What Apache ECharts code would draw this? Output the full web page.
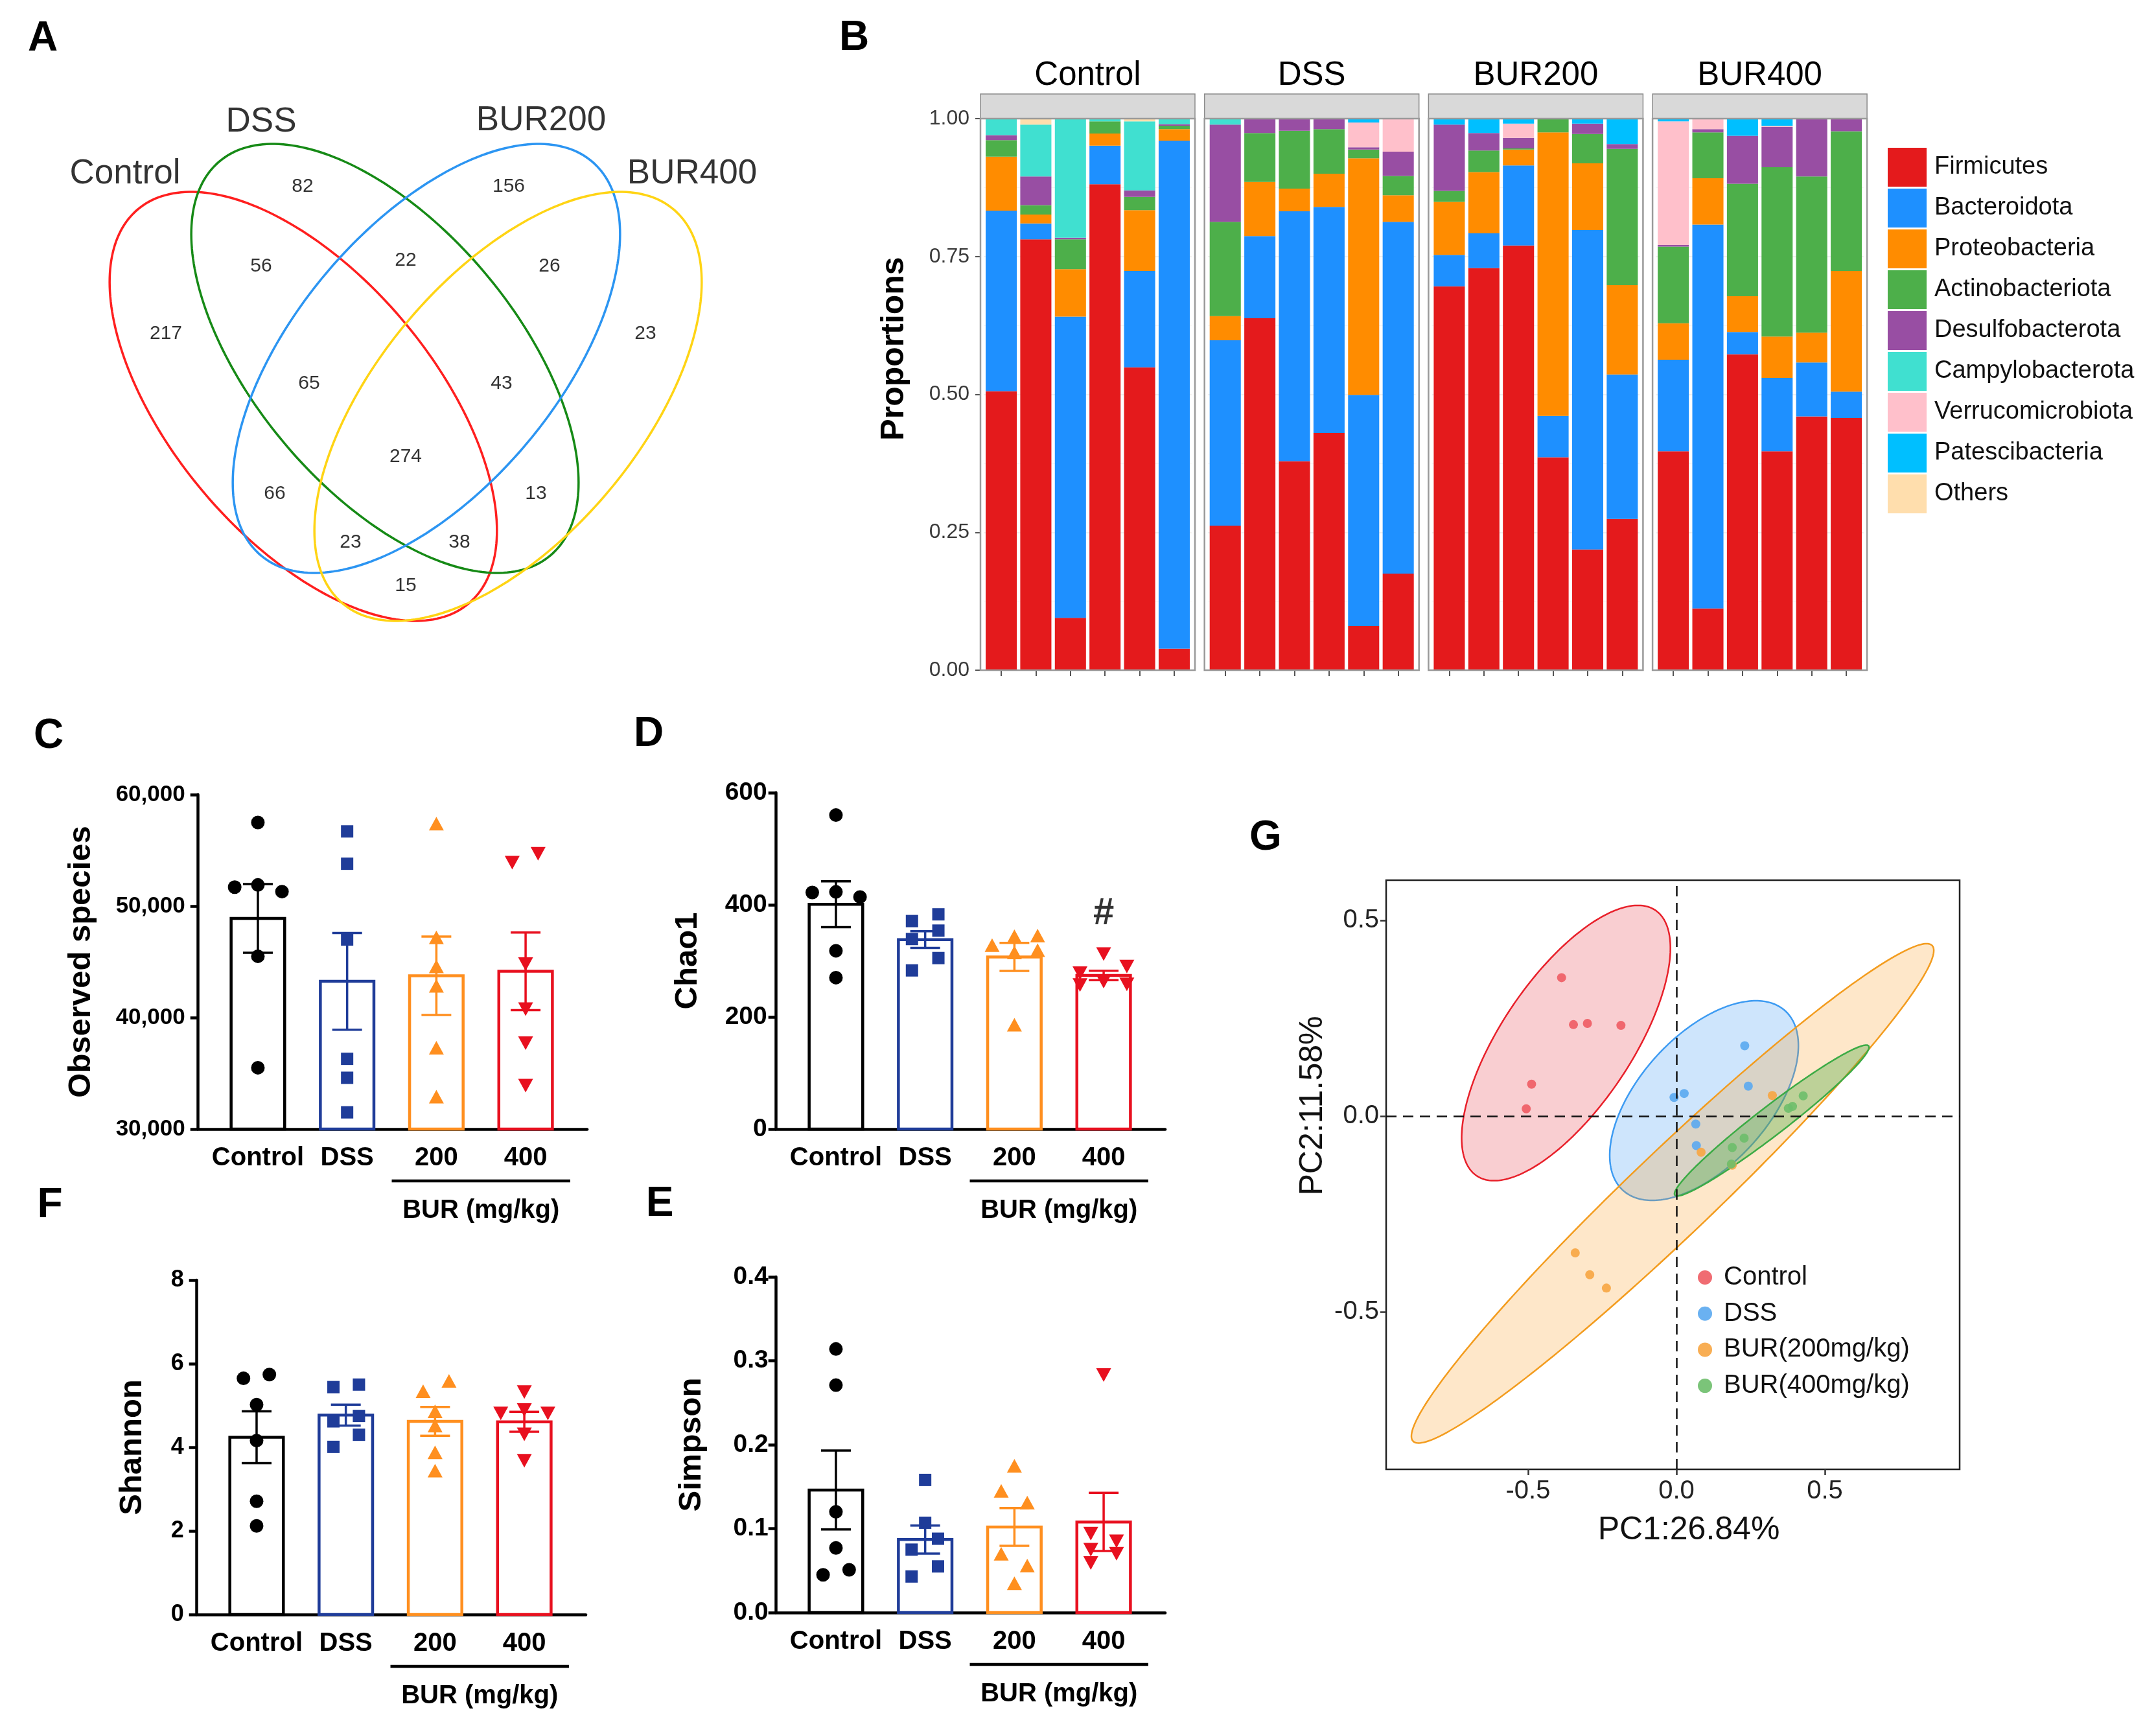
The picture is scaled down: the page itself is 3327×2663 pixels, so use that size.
<!DOCTYPE html>
<html><head><meta charset="utf-8">
<script src="https://cdn.jsdelivr.net/npm/echarts@6/dist/echarts.min.js"></script>
<style>html,body{margin:0;padding:0;background:#fff}#c{width:3327px;height:2663px}</style>
</head><body><div id="c"></div>
<script>
const FONT = '"Liberation Sans", Arial, Helvetica, sans-serif';

// ---------- Panel A : Venn ----------
const vennSets = ['Control', 'DSS', 'BUR200', 'BUR400'];
const vennSetPos = [[-4.33, 3.22], [-2.23, 4.02], [2.09, 4.04], [4.42, 3.22]];
const vennColors = ['#FF1F1F', '#168A16', '#2C95F2', '#FFD414'];
const vennShapes = [[-1.58, -0.37, 3.97, 2.03, -40], [-0.32, 0.37, 3.97, 2.03, -40], [0.32, 0.37, 3.97, 2.03, 40], [1.58, -0.37, 3.97, 2.03, 40]];
const vennCounts = [82, 156, 56, 22, 26, 217, 23, 65, 43, 274, 66, 13, 23, 38, 15];
const vennCountPos = [[-1.59, 3.02], [1.59, 3.02], [-2.23, 1.79], [0, 1.88], [2.22, 1.79], [-3.70, 0.75], [3.70, 0.75], [-1.49, -0.02], [1.48, -0.02], [0, -1.15], [-2.02, -1.72], [2.01, -1.72], [-0.85, -2.47], [0.83, -2.47], [0, -3.14]];

// ---------- Panel B : phylum composition ----------
const phyla = ['Firmicutes', 'Bacteroidota', 'Proteobacteria', 'Actinobacteriota', 'Desulfobacterota', 'Campylobacterota', 'Verrucomicrobiota', 'Patescibacteria', 'Others'];
const phylaColors = ['#E41A1C', '#1E90FF', '#FF8C00', '#4DAF4A', '#984EA3', '#40E0D0', '#FFC0CB', '#00BFFF', '#FFDEAD'];
const facetNames = ['Control', 'DSS', 'BUR200', 'BUR400'];
const sampleIds = ['1', '2', '3', '4', '5', '6'];
const compControl = [
  [0.506, 0.327, 0.098, 0.030, 0.009, 0.030, 0, 0, 0],
  [0.781, 0.029, 0.016, 0.017, 0.052, 0.094, 0, 0, 0.011],
  [0.095, 0.546, 0.086, 0.054, 0.003, 0.216, 0, 0, 0],
  [0.881, 0.070, 0.022, 0.022, 0, 0.005, 0, 0, 0],
  [0.549, 0.175, 0.110, 0.024, 0.012, 0.125, 0, 0, 0.005],
  [0.039, 0.921, 0.021, 0.006, 0.003, 0.010, 0, 0, 0]
];
const compDSS = [
  [0.262, 0.336, 0.044, 0.171, 0.176, 0.011, 0, 0, 0],
  [0.638, 0.149, 0.098, 0.089, 0.026, 0, 0, 0, 0],
  [0.379, 0.453, 0.041, 0.105, 0.022, 0, 0, 0, 0],
  [0.430, 0.410, 0.060, 0.081, 0.019, 0, 0, 0, 0],
  [0.080, 0.419, 0.429, 0.016, 0.004, 0, 0.045, 0.007, 0],
  [0.175, 0.638, 0.048, 0.035, 0.044, 0, 0.060, 0, 0]
];
const compBUR200 = [
  [0.696, 0.057, 0.096, 0.020, 0.120, 0, 0, 0.011, 0],
  [0.729, 0.063, 0.111, 0.039, 0.032, 0, 0, 0.026, 0],
  [0.770, 0.145, 0.029, 0.002, 0.019, 0, 0.026, 0.009, 0],
  [0.386, 0.075, 0.514, 0.025, 0, 0, 0, 0, 0],
  [0.219, 0.579, 0.121, 0.053, 0.019, 0, 0, 0.009, 0],
  [0.274, 0.262, 0.162, 0.247, 0.009, 0, 0, 0.046, 0]
];
const compBUR400 = [
  [0.397, 0.166, 0.066, 0.139, 0.003, 0, 0.224, 0.005, 0],
  [0.112, 0.696, 0.084, 0.083, 0.006, 0, 0.019, 0, 0],
  [0.573, 0.040, 0.065, 0.204, 0.087, 0, 0, 0.031, 0],
  [0.397, 0.133, 0.075, 0.307, 0.073, 0, 0.002, 0.013, 0],
  [0.460, 0.098, 0.054, 0.283, 0.105, 0, 0, 0, 0],
  [0.457, 0.048, 0.219, 0.253, 0.023, 0, 0, 0, 0]
];

// ---------- Panels C, D, F, E : alpha diversity ----------
const groupLabels = ['Control', 'DSS', '200', '400'];
const groupColors = ['#000000', '#1F3C99', '#FF8F1F', '#E8101F'];
const groupSymbols = ['circle', 'rect', 'triangle', 'triangle'];
const groupSymbolRotate = [0, 0, 0, 180];
const groupSymbolSize = [21, 19, [23, 21], [23, 21]];

const obsMean = [48900, 43250, 43750, 44150];
const obsSem = [3080, 4340, 3520, 3480];
const obsPts = [[57500, 51700, 51900, 51300, 45500, 35500], [56700, 53800, 47000, 36300, 34600, 31500], [57400, 47200, 44600, 42850, 37300, 32900], [53900, 54700, 44800, 40750, 37700, 33900]];
const obsJit = [[0, -0.26, 0, 0.27, 0, 0], [0, 0, 0, 0, 0, 0], [0, 0, 0, 0, 0, 0], [-0.15, 0.14, 0, 0, 0, 0]];

const chaoMean = [401, 338, 307, 274];
const chaoSem = [41, 15, 25, 8.5];
const chaoPts = [[560, 422, 423, 414, 318, 270], [371, 383, 354, 339, 305, 283], [328, 344, 345, 315, 319, 186], [312, 278, 290, 257, 263, 258]];
const chaoJit = [[0, -0.265, 0, 0.27, 0, 0], [-0.148, 0.148, 0.148, -0.148, 0.148, -0.148], [-0.25, 0, 0.26, 0, 0.26, 0], [0, -0.265, 0.26, -0.265, 0, 0.26]];
const chaoMark = [[3, 384, '#']];

const shanMean = [4.24, 4.77, 4.62, 4.61];
const shanSem = [0.62, 0.25, 0.345, 0.237];
const shanPts = [[5.65, 5.74, 5.02, 4.16, 2.71, 2.12], [5.44, 5.50, 4.62, 4.75, 4.30, 4.01], [5.34, 5.59, 4.86, 4.52, 3.88, 3.44], [5.32, 4.81, 4.89, 4.81, 4.31, 3.68]];
const shanJit = [[-0.147, 0.143, 0, 0, 0, 0], [-0.139, 0.147, -0.139, 0.147, 0.147, -0.139], [-0.134, 0.156, 0, 0, 0, 0], [0, -0.264, 0, 0.264, 0, 0]];

const simpMean = [0.146, 0.087, 0.102, 0.108];
const simpSem = [0.047, 0.0167, 0.0225, 0.0346];
const simpPts = [[0.314, 0.271, 0.120, 0.077, 0.045, 0.051], [0.158, 0.107, 0.075, 0.088, 0.055, 0.043], [0.175, 0.145, 0.131, 0.070, 0.056, 0.035], [0.283, 0.094, 0.085, 0.075, 0.070, 0.059]];
const simpJit = [[0, 0, 0, 0, -0.144, 0.148], [0, 0, -0.152, 0.144, 0.144, -0.152], [0, -0.148, 0.144, -0.148, 0.144, 0], [0, -0.144, 0.144, -0.144, 0.144, -0.144]];

// ---------- Panel G : PCA ----------
const pcaGroups = ['Control', 'DSS', 'BUR(200mg/kg)', 'BUR(400mg/kg)'];
const pcaColors = ['#EE5C63', '#5AA9F0', '#F7A541', '#6DBE6A'];
const pcaStroke = ['#E8202A', '#3D9BF2', '#F39C1E', '#3CAB45'];
const pcaFill = ['rgba(232,60,70,0.25)', 'rgba(60,150,245,0.25)', 'rgba(250,160,40,0.25)', 'rgba(70,170,60,0.35)'];
const pcaControl = [[-0.387, 0.354], [-0.347, 0.234], [-0.300, 0.237], [-0.187, 0.232], [-0.488, 0.082], [-0.506, 0.019]];
const pcaDSS = [[0.230, 0.180], [0.242, 0.077], [-0.008, 0.048], [0.026, 0.058], [0.065, -0.020], [0.067, -0.075]];
const pcaBUR200 = [[-0.341, -0.349], [-0.292, -0.405], [-0.236, -0.439], [0.323, 0.053], [0.083, -0.092], [0.188, -0.125]];
const pcaBUR400 = [[0.427, 0.052], [0.391, 0.025], [0.377, 0.020], [0.228, -0.056], [0.188, -0.080], [0.185, -0.122]];
const pcaEllipses = [[-0.372, 0.187, 0.457, 0.196, 45], [0.093, 0.040, 0.362, 0.187, 56], [-0.013, -0.197, 1.080, 0.121, 54.3], [0.321, -0.011, 0.378, 0.040, 59.9]];

// ================= build =================
function ellipsePts(api, n) {
  const cx = api.value(0), cy = api.value(1), a = api.value(2), b = api.value(3), t = api.value(4) * Math.PI / 180;
  const st = Math.sin(t), ct = Math.cos(t), pts = [];
  for (let k = 0; k < n; k++) {
    const s = 2 * Math.PI * k / n, cs = Math.cos(s), ss = Math.sin(s);
    pts.push(api.coord([cx + a * cs * st + b * ss * ct, cy + a * cs * ct - b * ss * st]));
  }
  return pts;
}

const grids = [], xAxes = [], yAxes = [], series = [], graphics = [];

// Venn
grids.push({ left: 76, top: 90, width: 1100, height: 1000 });
xAxes.push({ gridIndex: 0, type: 'value', min: -5.5, max: 5.5, show: false });
yAxes.push({ gridIndex: 0, type: 'value', min: -5, max: 5, show: false });
series.push({
  type: 'custom', name: 'venn-ellipses', xAxisIndex: 0, yAxisIndex: 0, clip: false, silent: true,
  dimensions: ['cx', 'cy', 'a', 'b', 'deg'], encode: { x: 0, y: 1 }, data: vennShapes,
  renderItem: (params, api) => ({ type: 'polygon', shape: { points: ellipsePts(api, 240) }, style: { fill: 'none', stroke: vennColors[params.dataIndex], lineWidth: 3.5 } })
});
series.push({
  type: 'scatter', name: 'venn-sets', xAxisIndex: 0, yAxisIndex: 0, silent: true, symbolSize: 1, itemStyle: { color: 'rgba(0,0,0,0)' },
  data: vennSets.map((s, i) => ({ name: s, value: vennSetPos[i] })),
  label: { show: true, position: 'inside', formatter: '{b}', fontSize: 53, color: '#000', fontFamily: FONT }
});
series.push({
  type: 'scatter', name: 'venn-counts', xAxisIndex: 0, yAxisIndex: 0, silent: true, symbolSize: 1, itemStyle: { color: 'rgba(0,0,0,0)' },
  data: vennCounts.map((c, i) => [vennCountPos[i][0], vennCountPos[i][1], c]),
  label: { show: true, position: 'inside', formatter: p => String(p.value[2]), fontSize: 30, color: '#000', fontFamily: FONT }
});

// Panel B facets
const facetLeft = [1513, 1858.7, 2204.4, 2550.1], FW = 331, FT = 183, FB = 1034;
const pitchB = FW / 6.2;
const comps = [compControl, compDSS, compBUR200, compBUR400];
facetLeft.forEach((l, g) => {
  const gi = 1 + g;
  grids.push({ left: l + 0.1 * pitchB, top: FT, width: 6 * pitchB, height: FB - FT });
  xAxes.push({ gridIndex: gi, type: 'category', data: sampleIds, axisLine: { show: false },
    axisTick: { show: true, alignWithLabel: true, length: 9, lineStyle: { color: '#555', width: 2 } },
    axisLabel: { show: false }, splitLine: { show: false } });
  yAxes.push({ gridIndex: gi, type: 'value', min: 0, max: 1, interval: 0.25, offset: g === 0 ? 0.1 * pitchB : 0,
    axisLine: { show: false }, axisTick: { show: g === 0, length: 8, lineStyle: { color: '#555', width: 2 } },
    axisLabel: { show: g === 0, formatter: v => v.toFixed(2), fontSize: 32, color: '#3a3a3a', fontFamily: FONT, margin: 17 },
    splitLine: { show: true, lineStyle: { color: '#EBEBEB', width: 1.5 } },
    minorTick: { show: false, splitNumber: 2 }, minorSplitLine: { show: true, lineStyle: { color: '#F4F4F4', width: 1 } } });
  phyla.forEach((ph, p) => series.push({
    type: 'bar', name: ph, xAxisIndex: gi, yAxisIndex: gi, stack: 'facet' + g, barWidth: 0.9 * pitchB,
    data: comps[g].map(r => r[p]), itemStyle: { color: phylaColors[p] }, silent: true
  }));
  graphics.push({ type: 'rect', z: 10, silent: true, shape: { x: l, y: 145, width: FW, height: 38 }, style: { fill: '#D9D9D9', stroke: '#8C8C8C', lineWidth: 1.5 } });
  graphics.push({ type: 'rect', z: 10, silent: true, shape: { x: l, y: FT, width: FW, height: FB - FT }, style: { fill: 'none', stroke: '#9A9A9A', lineWidth: 2.5 } });
  graphics.push({ type: 'text', z: 10, silent: true, x: l + FW / 2, y: 117, style: { text: facetNames[g], font: '51px ' + FONT, fill: '#000', textAlign: 'center', textVerticalAlign: 'middle' } });
});
graphics.push({ type: 'text', z: 10, silent: true, x: 1380, y: 538, rotation: Math.PI / 2, style: { text: 'Proportions', font: 'bold 50px ' + FONT, fill: '#000', textAlign: 'center', textVerticalAlign: 'middle' } });

// Panels C D F E
const gpLayout = [
  { grid: { left: 305.7, top: 1226, width: 600.4, height: 516 }, nameGap: 156, fs: 35, margin: 20 },
  { grid: { left: 1197.7, top: 1223, width: 600.4, height: 519 }, nameGap: 112, fs: 39, margin: 14 },
  { grid: { left: 303.7, top: 1975, width: 600.4, height: 516 }, nameGap: 75, fs: 36, margin: 20 },
  { grid: { left: 1197.7, top: 1970, width: 600.4, height: 518 }, nameGap: 106, fs: 39, margin: 12 }
];
const comma = v => String(Math.round(v)).replace(/\B(?=(\d{3})+(?!\d))/g, ',');
const gpData = [
  { title: 'Observed species', min: 30000, max: 60000, step: 10000, mean: obsMean, sem: obsSem, pts: obsPts, jit: obsJit, fmt: comma },
  { title: 'Chao1', min: 0, max: 600, step: 200, mean: chaoMean, sem: chaoSem, pts: chaoPts, jit: chaoJit, fmt: v => String(Math.round(v)) },
  { title: 'Shannon', min: 0, max: 8, step: 2, mean: shanMean, sem: shanSem, pts: shanPts, jit: shanJit, fmt: v => String(Math.round(v)) },
  { title: 'Simpson', min: 0, max: 0.4, step: 0.1, mean: simpMean, sem: simpSem, pts: simpPts, jit: simpJit, fmt: v => v.toFixed(1) }
];
const XMIN = -0.67, XMAX = 3.69;
gpData.forEach((d, k) => {
  const gi = 5 + k, lay = gpLayout[k];
  grids.push(lay.grid);
  xAxes.push({ gridIndex: gi, type: 'value', min: XMIN, max: XMAX, splitLine: { show: false },
    axisLine: { show: true, onZero: false, lineStyle: { color: '#000', width: 4.5 } }, axisTick: { show: false },
    axisLabel: { show: true, customValues: [0, 1, 2, 3], formatter: v => groupLabels[Math.round(v)], fontSize: 40, fontWeight: 'bold', color: '#000', fontFamily: FONT, margin: 25 } });
  yAxes.push({ gridIndex: gi, type: 'value', min: d.min, max: d.max, interval: d.step,
    name: d.title, nameLocation: 'middle', nameGap: lay.nameGap, nameRotate: 90,
    nameTextStyle: { fontSize: 49, fontWeight: 'bold', color: '#000', fontFamily: FONT },
    axisLine: { show: true, onZero: false, lineStyle: { color: '#000', width: 4.5 } },
    axisTick: { show: true, length: 12, lineStyle: { color: '#000', width: 4.5 } },
    axisLabel: { fontSize: lay.fs, fontWeight: 'bold', color: '#000', fontFamily: FONT, margin: lay.margin, formatter: d.fmt },
    splitLine: { show: false } });
  series.push({
    type: 'custom', name: d.title + ' mean', xAxisIndex: gi, yAxisIndex: gi, clip: false, silent: true, z: 2,
    dimensions: ['g', 'mean', 'sem'], encode: { x: 0, y: 1 },
    data: d.mean.map((m, g) => [g, m, d.sem[g]]),
    renderItem: (params, api) => {
      const i = api.value(0), m = api.value(1), s = api.value(2), c = groupColors[params.dataIndex];
      const bl = api.coord([i - 0.30, d.min]), tr = api.coord([i + 0.30, m]);
      const top = api.coord([i, m + s]), bot = api.coord([i, m - s]);
      const cl = api.coord([i - 0.167, m])[0], cr = api.coord([i + 0.167, m])[0];
      return { type: 'group', children: [
        { type: 'rect', shape: { x: bl[0], y: tr[1], width: tr[0] - bl[0], height: bl[1] - tr[1] }, style: { fill: '#fff', stroke: c, lineWidth: 4.5 } },
        { type: 'line', shape: { x1: top[0], y1: top[1], x2: bot[0], y2: bot[1] }, style: { stroke: c, lineWidth: 3.5 } },
        { type: 'line', shape: { x1: cl, y1: top[1], x2: cr, y2: top[1] }, style: { stroke: c, lineWidth: 3.5 } },
        { type: 'line', shape: { x1: cl, y1: bot[1], x2: cr, y2: bot[1] }, style: { stroke: c, lineWidth: 3.5 } }
      ] };
    }
  });
  d.pts.forEach((arr, g) => series.push({
    type: 'scatter', name: d.title + ' ' + groupLabels[g] + ' points', xAxisIndex: gi, yAxisIndex: gi, silent: true, z: 4,
    symbol: groupSymbols[g], symbolRotate: groupSymbolRotate[g], symbolSize: groupSymbolSize[g],
    itemStyle: { color: groupColors[g], opacity: 1 },
    data: arr.map((v, j) => [g + d.jit[g][j], v])
  }));
  // BUR (mg/kg) bracket
  const pitch = lay.grid.width / (XMAX - XMIN);
  const cx = g => lay.grid.left + (g - XMIN) * pitch;
  const bottom = lay.grid.top + lay.grid.height;
  graphics.push({ type: 'line', silent: true, shape: { x1: cx(2) - 0.5 * pitch, y1: bottom + 80, x2: cx(3) + 0.5 * pitch, y2: bottom + 80 }, style: { stroke: '#000', lineWidth: 4.5 } });
  graphics.push({ type: 'text', silent: true, x: (cx(2) + cx(3)) / 2, y: bottom + 126, style: { text: 'BUR (mg/kg)', font: 'bold 40px ' + FONT, fill: '#000', textAlign: 'center', textVerticalAlign: 'middle' } });
});
series.push({
  type: 'scatter', name: 'chao-significance', xAxisIndex: 6, yAxisIndex: 6, silent: true, symbolSize: 1, itemStyle: { color: 'rgba(0,0,0,0)' },
  data: chaoMark, label: { show: true, position: 'inside', formatter: p => p.value[2], fontSize: 58, fontWeight: 'bold', color: '#000', fontFamily: FONT }
});

// Panel G
grids.push({ left: 2139, top: 1358, width: 885, height: 909, show: true, borderColor: '#222', borderWidth: 2.5, backgroundColor: '#fff' });
const gTicks = [-0.5, 0, 0.5];
xAxes.push({ gridIndex: 9, type: 'value', min: -0.978, max: 0.954, splitLine: { show: false },
  axisLine: { show: false, onZero: false }, axisTick: { show: true, customValues: gTicks, length: 9, lineStyle: { color: '#333', width: 2.5 } },
  axisLabel: { customValues: gTicks, formatter: v => v.toFixed(1), fontSize: 40, color: '#222', fontFamily: FONT, margin: 14 } });
yAxes.push({ gridIndex: 9, type: 'value', min: -0.902, max: 0.603, splitLine: { show: false },
  axisLine: { show: false, onZero: false }, axisTick: { show: true, customValues: gTicks, length: 9, lineStyle: { color: '#333', width: 2.5 } },
  axisLabel: { customValues: gTicks, formatter: v => v.toFixed(1), fontSize: 40, color: '#222', fontFamily: FONT, margin: 11 } });
series.push({
  type: 'custom', name: 'pca-ellipses', xAxisIndex: 9, yAxisIndex: 9, clip: false, silent: true, z: 2,
  dimensions: ['cx', 'cy', 'a', 'b', 'deg'], encode: { x: 0, y: 1 }, data: pcaEllipses,
  renderItem: (params, api) => ({ type: 'polygon', shape: { points: ellipsePts(api, 240) }, style: { fill: pcaFill[params.dataIndex], stroke: pcaStroke[params.dataIndex], lineWidth: 2.5 } })
});
[pcaControl, pcaDSS, pcaBUR200, pcaBUR400].forEach((pts, g) => series.push({
  type: 'scatter', name: pcaGroups[g], xAxisIndex: 9, yAxisIndex: 9, silent: true, z: 4, symbolSize: 14,
  itemStyle: { color: pcaColors[g], opacity: 0.9 }, data: pts,
  markLine: g === 0 ? { silent: true, symbol: 'none', animation: false, label: { show: false },
    lineStyle: { type: [16, 10], color: '#111', width: 2.5 }, data: [{ xAxis: 0 }, { yAxis: 0 }] } : undefined
}));
graphics.push({ type: 'text', silent: true, x: 2606, y: 2361, style: { text: 'PC1:26.84%', font: '50px ' + FONT, fill: '#111', textAlign: 'center', textVerticalAlign: 'middle' } });
graphics.push({ type: 'text', silent: true, x: 2026, y: 1706, rotation: Math.PI / 2, style: { text: 'PC2:11.58%', font: '50px ' + FONT, fill: '#111', textAlign: 'center', textVerticalAlign: 'middle' } });

// Panel letters
[['A', 66, 60], ['B', 1318, 59], ['C', 75, 1136], ['D', 1001, 1133], ['F', 77, 1860], ['E', 1018, 1858], ['G', 1953, 1293]].forEach(([t, x, y]) =>
  graphics.push({ type: 'text', silent: true, x, y, style: { text: t, font: 'bold 64px ' + FONT, fill: '#000', textAlign: 'center', textVerticalAlign: 'middle' } }));

const chart = echarts.init(document.getElementById('c'), null, { renderer: 'canvas', width: 3327, height: 2663 });
chart.setOption({
  backgroundColor: '#fff',
  animation: false,
  grid: grids,
  xAxis: xAxes,
  yAxis: yAxes,
  legend: [
    { data: phyla, orient: 'vertical', left: 2913, top: 228, itemWidth: 60, itemHeight: 60, itemGap: 3, icon: 'rect', padding: 0,
      selectedMode: false, textStyle: { fontSize: 38, color: '#111', fontFamily: FONT, padding: [0, 0, 0, 7] } },
    { data: pcaGroups, orient: 'vertical', left: 2620, top: 1951, itemWidth: 22, itemHeight: 22, itemGap: 15.7, icon: 'circle', padding: 0,
      selectedMode: false, textStyle: { fontSize: 40, lineHeight: 40, color: '#111', fontFamily: FONT, padding: [0, 0, 0, 13] } }
  ],
  graphic: graphics,
  series: series
});
</script></body></html>
